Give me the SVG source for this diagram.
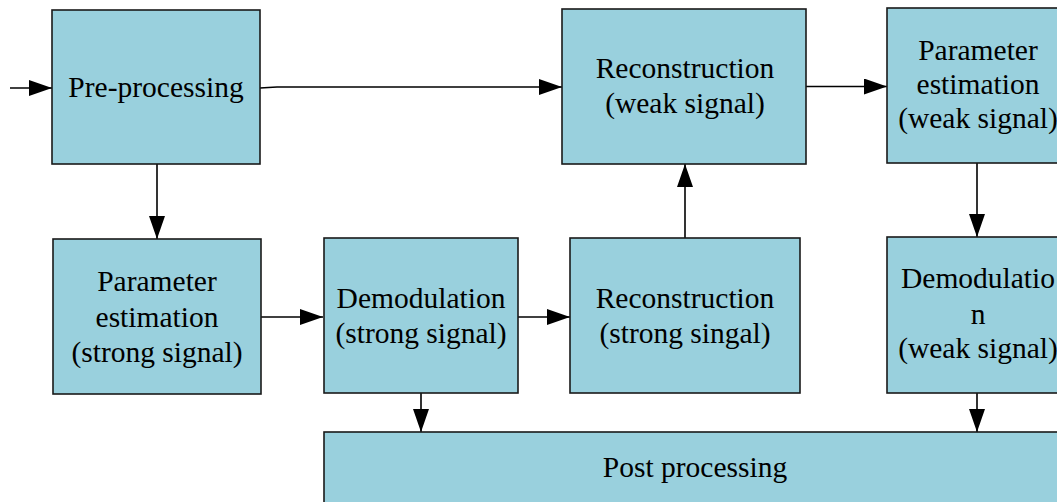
<svg xmlns="http://www.w3.org/2000/svg" width="1057" height="502" viewBox="0 0 1057 502">
<style>
.box{fill:#99D0DD;stroke:#1a1a1a;stroke-width:1.6}
.t{font-size:29.5px;fill:#000;text-anchor:middle}
.c{stroke:#000;stroke-width:1.6;fill:none;marker-end:url(#ah)}
</style>
<defs>
<marker id="ah" markerUnits="userSpaceOnUse" markerWidth="24" markerHeight="16" refX="23" refY="8" orient="auto">
<path d="M0,0 L23,8 L0,16 Z" fill="#000"/>
</marker>
</defs>
<rect width="1057" height="502" fill="#fff"/>
<g id="connectors">
<line class="c" x1="10" y1="88" x2="52" y2="88"/>
<polyline class="c" points="260,88 277,87 562,87"/>
<line class="c" x1="157" y1="164" x2="157" y2="239"/>
<line class="c" x1="261" y1="317" x2="323" y2="317"/>
<line class="c" x1="518" y1="317" x2="570" y2="317"/>
<line class="c" x1="685" y1="238" x2="685" y2="164"/>
<line class="c" x1="806" y1="86.5" x2="887" y2="86.5"/>
<line class="c" x1="977" y1="163" x2="977" y2="237"/>
<line class="c" x1="421" y1="393" x2="421" y2="432"/>
<line class="c" x1="977" y1="393" x2="977" y2="432"/>
</g>
<g font-family="Liberation Serif, Times New Roman, serif">
<g id="preprocessing">
<rect class="box" x="52" y="10" width="208" height="154"/>
<text class="t" x="156" y="97" font-family="Liberation Serif">Pre-processing</text>
</g>
<g id="recon-weak">
<rect class="box" x="562" y="9" width="244" height="155"/>
<text class="t" x="685" y="78" font-family="Liberation Serif">Reconstruction</text>
<text class="t" x="685" y="113" font-family="Liberation Serif">(weak signal)</text>
</g>
<g id="param-weak">
<rect class="box" x="887" y="8" width="182" height="155"/>
<text class="t" x="978" y="60" font-family="Liberation Serif">Parameter</text>
<text class="t" x="978" y="94" font-family="Liberation Serif">estimation</text>
<text class="t" x="978" y="128" font-family="Liberation Serif">(weak signal)</text>
</g>
<g id="param-strong">
<rect class="box" x="53" y="239" width="208" height="155"/>
<text class="t" x="157" y="291" font-family="Liberation Serif">Parameter</text>
<text class="t" x="157" y="327" font-family="Liberation Serif">estimation</text>
<text class="t" x="157" y="362" font-family="Liberation Serif">(strong signal)</text>
</g>
<g id="demod-strong">
<rect class="box" x="324" y="238" width="194" height="155"/>
<text class="t" x="421" y="308" font-family="Liberation Serif">Demodulation</text>
<text class="t" x="421" y="343" font-family="Liberation Serif">(strong signal)</text>
</g>
<g id="recon-strong">
<rect class="box" x="570" y="238" width="230" height="155"/>
<text class="t" x="685" y="308" font-family="Liberation Serif">Reconstruction</text>
<text class="t" x="685" y="343" font-family="Liberation Serif">(strong singal)</text>
</g>
<g id="demod-weak">
<rect class="box" x="887" y="237" width="182" height="156"/>
<text class="t" x="978" y="288" font-family="Liberation Serif">Demodulatio</text>
<text class="t" x="978" y="324" font-family="Liberation Serif">n</text>
<text class="t" x="978" y="358" font-family="Liberation Serif">(weak signal)</text>
</g>
<g id="postprocessing">
<rect class="box" x="324" y="432" width="742" height="80"/>
<text class="t" x="695" y="477" font-family="Liberation Serif">Post processing</text>
</g>
</g>
</svg>
